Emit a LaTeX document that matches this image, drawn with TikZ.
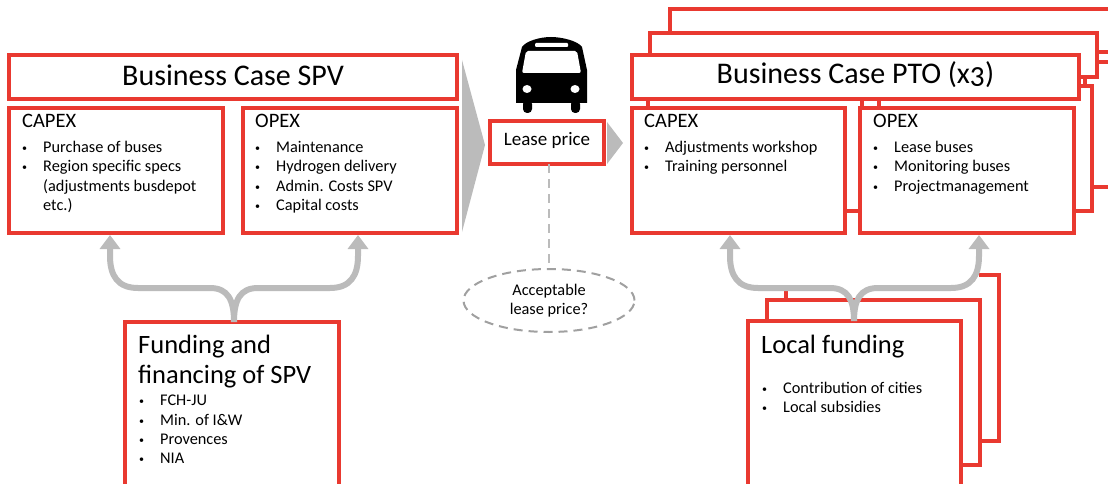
\documentclass[tikz,border=0pt]{standalone}
\usepackage{fontspec}
\setmainfont{Carlito}
\usetikzlibrary{arrows.meta,shapes.geometric}
\definecolor{boxRed}{RGB}{233,57,48}
\definecolor{arrowGrey}{RGB}{187,187,187}
\definecolor{dashGrey}{RGB}{160,160,160}
\newcommand{\listItem}[1]{\makebox[21pt][l]{\raisebox{1pt}{\fontsize{10}{10}\selectfont\textbullet}}#1}
\begin{document}
\begin{tikzpicture}
[x=1pt,y=-1pt,
  boxDecorate/.style={shape=rectangle,draw=boxRed,line width=3.4pt,fill=white,
    anchor=north west,inner sep=0pt,outer sep=0pt},
  openDecorate/.style={draw=boxRed,line width=3.4pt},
  fundDecorate/.style={draw=arrowGrey,line width=6pt,
    -{Triangle[width=20pt,length=14pt]},shorten >=2pt},
  wedgeDecorate/.style={fill=arrowGrey},
  titleText/.style={font=\fontsize{30}{33}\selectfont,inner sep=0pt,yshift=2pt},
  headText/.style={font=\fontsize{20.5}{23}\selectfont,anchor=north west,inner sep=0pt},
  listText/.style={font=\fontsize{16.3}{19.4}\selectfont,anchor=north west,inner sep=0pt,align=left},
  bigText/.style={font=\fontsize{26.5}{30}\selectfont,anchor=north west,inner sep=0pt,align=left}]
\path[use as bounding box,clip] (0,0) rectangle (1108,484);
%% stacked boxes, back to front
\foreach \nodename/\x/\y/\w/\h in {
  titleBackB/670/9/460/43, opexBackB/1085/62/50/125,
  titleBackA/650/33/447/44, capexBackA/648/86/214/125, opexBackA/879/86/213/125,
  titleSpv/9/55/448/44, capexSpv/9/108/214/125, opexSpv/243/108/214/125,
  titlePto/632/55/447/44, capexPto/632/108/213/125, opexPto/860/108/214/125,
  leasePrice/490/121/114/43,
  fundSpv/125/322/214/200, localBack/767/300/213/165, localFront/748/321/213/200}
{
  \node (\nodename) at (\x,\y) [boxDecorate,minimum width=\w pt,minimum height=\h pt] {};
}
%% rearmost local box, only partly visible
\draw[openDecorate] (979,275) -- (999,275) -- (999,441) -- (localBack.south east |- 0,441);
\draw[openDecorate] (786,291) -- (786,300);
%% texts
\node at (titleSpv) [titleText] {Business Case SPV};
\node at (titlePto) [titleText] {Business Case PTO ({\addfontfeatures{Numbers=OldStyle}x3})};
\foreach \nodename/\nodehead/\x in {
  capexSpv/CAPEX/22, opexSpv/OPEX/255, capexPto/CAPEX/644, opexPto/OPEX/873}
{
  \node at (\x,114) [headText] {\nodehead};
}
\node at (22,141) [listText] {\listItem{Purchase of buses}\\\listItem{Region specific specs}\\\hspace{21pt}(adjustments busdepot\\\hspace{21pt}etc.)};
\node at (255,141) [listText] {\listItem{Maintenance}\\\listItem{Hydrogen delivery}\\\listItem{Admin. Costs SPV}\\\listItem{Capital costs}};
\node at (644,141) [listText] {\listItem{Adjustments workshop}\\\listItem{Training personnel}};
\node at (873,141) [listText] {\listItem{Lease buses}\\\listItem{Monitoring buses}\\\listItem{Projectmanagement}};
\node at (138,335) [bigText] {Funding and\\financing of SPV};
\node at (139,395) [listText] {\listItem{FCH-JU}\\\listItem{Min. of I\&W}\\\listItem{Provences}\\\listItem{NIA}};
\node at (761,335) [bigText] {Local funding};
\node at (762,382) [listText] {\listItem{Contribution of cities}\\\listItem{Local subsidies}};
\node at (leasePrice) [font=\fontsize{19}{22}\selectfont,inner sep=0pt,yshift=2pt] {Lease price};
%% acceptable price
\node (acceptPrice) at (549,300.5) [shape=ellipse,draw=dashGrey,line width=2pt,dash pattern=on 9pt off 6pt,
  minimum width=171pt,minimum height=63pt,inner sep=0pt,align=center,
  font=\fontsize{16.3}{19}\selectfont] {Acceptable\\lease price?};
\draw[draw=arrowGrey,line width=2.4pt,dash pattern=on 9pt off 6pt] (leasePrice.south -| acceptPrice.north) -- (acceptPrice.north);
%% wedges
\fill[wedgeDecorate] (462,60) -- (485,145) -- (462,232) -- cycle;
\fill[wedgeDecorate] (607,122) -- (623,143) -- (607,164) -- cycle;
%% funding arrows
\foreach \fromnode/\tonode/\stemx/\sgn/\tipx in {
  fundSpv/capexSpv/234/-1/110, fundSpv/opexSpv/234/1/358,
  localFront/capexPto/854/-1/730, localFront/opexPto/854/1/979}
{
  \draw[fundDecorate] (\fromnode.north -| \stemx,0) .. controls (\stemx,300) and (\stemx+\sgn*6,288) .. (\stemx+\sgn*24,288)
    -- (\tipx-\sgn*28,288) .. controls (\tipx-\sgn*8,288) and (\tipx,276) .. (\tipx,256) -- (\tonode.south -| \tipx,0);
}
%% bus
\fill[black] (516,103) -- (516,70) -- (522,47) .. controls (526,41) and (540,37) .. (551,37)
  .. controls (562,37) and (578,41) .. (582,47) -- (587,70) -- (587,103) -- cycle;
\fill[black,rounded corners=4pt] (523,100) rectangle (532,113);
\fill[black,rounded corners=4pt] (571,100) rectangle (580,113);
\fill[white,rounded corners=2pt] (526,51) -- (577,51) -- (581,73) -- (522,73) -- cycle;
\fill[white,rounded corners=1pt] (535,43) rectangle (568,47);
\fill[white] (527,89) ellipse [x radius=4.5,y radius=4];
\fill[white] (575,89) ellipse [x radius=4.5,y radius=4];
\end{tikzpicture}
\end{document}
